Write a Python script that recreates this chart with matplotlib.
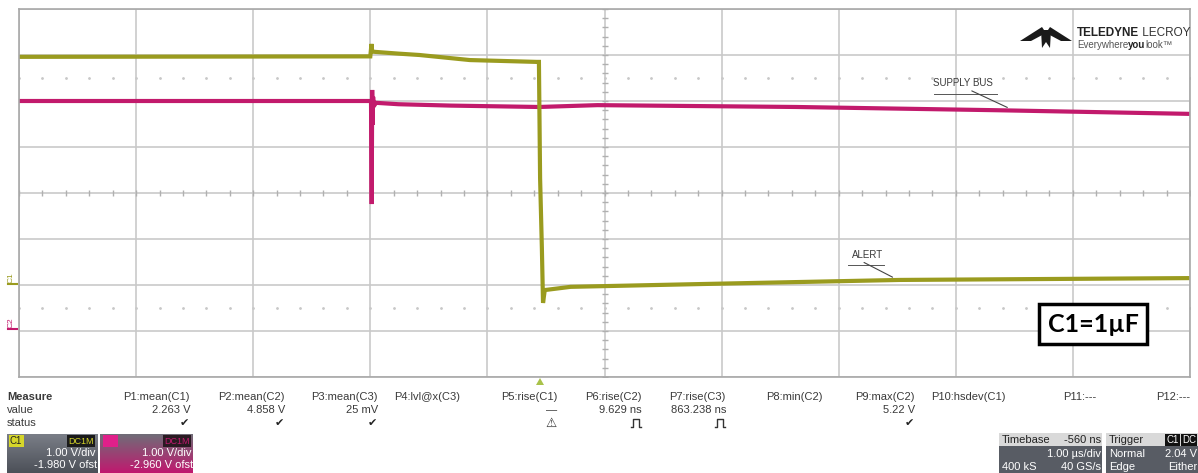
import numpy as np
import matplotlib
matplotlib.use("Agg")
import matplotlib.pyplot as plt
from matplotlib.patches import Rectangle, Polygon

# 오실로스코프 설정값
time_per_div = 1.0          # us/div
t_left = -4.44              # 화면 왼쪽 끝 시간 (트리거 = 0)
c1_ofst = -1.98             # V
c2_ofst = -2.96             # V

# C1 (ALERT) 파형: 시간(us), 전압(V)
c1_t = [-4.44, -1.44, -1.430, -1.425, -1.41, -1.20, -1.02, -0.59, -0.02, 0.0, 0.01, 0.025, 0.035, 0.05, 0.27, 1.37, 3.08, 5.56]
c1_v = [4.94, 4.95, 5.22, 5.07, 5.05, 5.01, 4.98, 4.87, 4.83, 4.83, 2.30, 0.80, -0.41, -0.13, -0.06, 0.00, 0.09, 0.13]

# C2 (SUPPLY BUS) 파형
c2_t = [-4.44, -1.434, -1.428, -1.424, -1.420, -1.416, -1.41, -1.39, -1.20, -0.75, 0.0, 0.5, 2.2, 3.9, 5.56]
c2_v = [4.96, 4.96, 2.72, 5.20, 4.44, 5.05, 4.85, 4.92, 4.89, 4.86, 4.83, 4.87, 4.83, 4.76, 4.68]

# 측정 테이블
meas_names = ["P1:mean(C1)", "P2:mean(C2)", "P3:mean(C3)", "P4:lvl@x(C3)", "P5:rise(C1)",
              "P6:rise(C2)", "P7:rise(C3)", "P8:min(C2)", "P9:max(C2)", "P10:hsdev(C1)",
              "P11:---", "P12:---"]
meas_values = ["2.263 V", "4.858 V", "25 mV", "", "\u2014", "9.629 ns", "863.238 ns", "", "5.22 V", "", "", ""]
meas_status = ["ok", "ok", "ok", "", "warn", "pulse", "pulse", "", "ok", "", "", ""]
meas_right = [190, 285, 378, 460, 557, 642, 726, 823, 915, 1006, 1096, 1190]

W, H = 1198, 473
YEL = "#9a9b1f"
MAG = "#c21a6c"
GRID = "#c9c9c9"
TXT = "#3a3a3a"


def fx(px):
    return px / W


def fy(py):
    return 1 - py / H


plt.rcParams['font.family'] = ['Liberation Sans', 'DejaVu Sans']
fig = plt.figure(figsize=(W / 100, H / 100), dpi=100)
fig.patch.set_facecolor("white")

# 화면 영역
ax_l, ax_r, ax_t, ax_b = 19, 1190, 9, 377
ax = fig.add_axes([fx(ax_l), fy(ax_b), fx(ax_r - ax_l), (ax_b - ax_t) / H])
x0, x1 = t_left, t_left + 10 * time_per_div
ax.set_xlim(x0, x1)
ax.set_ylim(-4, 4)
ax.set_xticks(x0 + np.arange(11) * time_per_div)
ax.set_yticks(np.arange(-4, 5))
ax.tick_params(length=0, labelbottom=False, labelleft=False)
ax.grid(True, color=GRID, linewidth=1.2)
for s in ax.spines.values():
    s.set_color("#a8a8a8")
    s.set_linewidth(1.2)

# 중앙선 눈금 및 점선 행
xc = x0 + 5 * time_per_div
minor_x = x0 + np.arange(0, 10.01, 0.2) * time_per_div
minor_y = np.arange(-4, 4.01, 0.2)
ax.plot(minor_x, np.zeros_like(minor_x), linestyle="none", marker="|", markersize=5, color="#b0b0b0", mew=1)
ax.plot(np.full_like(minor_y, xc), minor_y, linestyle="none", marker="_", markersize=5, color="#b0b0b0", mew=1)
for yy in (2.5, -2.5):
    ax.plot(minor_x, np.full_like(minor_x, yy), linestyle="none", marker=".", markersize=2, color="#c8c8c8")

# 파형 그리기 (화면 위치 = (V + ofst) / V/div)
ax.plot(c2_t, np.array(c2_v) + c2_ofst, color=MAG, linewidth=3.0, solid_joinstyle="miter")
ax.plot(c1_t, np.array(c1_v) + c1_ofst, color=YEL, linewidth=3.0, solid_joinstyle="miter")

# 라벨
ax.annotate("SUPPLY BUS", xy=(x0 + 8.44, 1.86), xytext=(x0 + 8.06, 2.28),
            fontsize=7, color=TXT, ha="center", va="bottom",
            arrowprops=dict(arrowstyle="-", color="#444444", lw=0.8, shrinkA=0, shrinkB=0,
                            relpos=(0.55, 0)))
ax.plot([x0 + 7.81, x0 + 8.35], [2.16, 2.16], color="#555555", lw=0.7)
ax.annotate("ALERT", xy=(x0 + 7.46, -1.83), xytext=(x0 + 7.25, -1.45),
            fontsize=7, color=TXT, ha="center", va="bottom",
            arrowprops=dict(arrowstyle="-", color="#444444", lw=0.8, shrinkA=0, shrinkB=0,
                            relpos=(0.2, 0)))
ax.plot([x0 + 7.08, x0 + 7.39], [-1.56, -1.56], color="#555555", lw=0.7)

# C1=1µF 박스
fig.text(fx(1093), fy(324), "C1=1\u00b5F", fontsize=18, fontweight="bold",
         family=["Lato", "DejaVu Sans"], ha="center", va="center", color="black",
         bbox=dict(boxstyle="square,pad=0.35", facecolor="white", edgecolor="black", linewidth=2.5))

# 로고
logo = [
    [(1020, 41), (1042, 27), (1046, 33), (1031, 41)],
    [(1072, 41), (1050, 27), (1046, 33), (1061, 41)],
    [(1041, 30), (1051, 30), (1050, 48), (1046, 42), (1042, 48)],
]
for poly in logo:
    fig.patches.append(Polygon([(fx(a), fy(b)) for a, b in poly], closed=True,
                               transform=fig.transFigure, facecolor="#1a1a1a", edgecolor="none"))

renderer = fig.canvas.get_renderer()


def text_run(x_px, y_px, parts, size):
    # 여러 스타일의 글자를 이어서 배치
    x = fx(x_px)
    for s, weight, col in parts:
        t = fig.text(x, fy(y_px), s, fontsize=size, fontweight=weight, color=col, va="center")
        bb = t.get_window_extent(renderer=renderer)
        x += bb.width / (W)


text_run(1077, 33, [("TELEDYNE", "bold", "#222222"), (" LECROY", "normal", "#333333")], 8.5)
text_run(1077, 45, [("Everywhere", "normal", "#555555"), ("you", "bold", "#222222"),
                    ("look\u2122", "normal", "#555555")], 7)

# 채널 기준 표시
for lab, col, ofst in (("C1", YEL, c1_ofst), ("C2", MAG, c2_ofst)):
    py = 193 - ofst * 46
    fig.text(fx(11), fy(py - 6), lab, fontsize=6, color=col, rotation=90, ha="center", va="center")
    fig.lines.append(plt.Line2D([fx(8), fx(17)], [fy(py), fy(py)], transform=fig.transFigure,
                                color=col, lw=1.5))

# 트리거 표시
fig.patches.append(Polygon([(fx(536), fy(385)), (fx(544), fy(385)), (fx(540), fy(378))],
                           closed=True, transform=fig.transFigure, facecolor="#a9c24a", edgecolor="none"))

# 측정 테이블
fig.text(fx(7), fy(397), "Measure", fontsize=8, fontweight="bold", color=TXT, va="center")
fig.text(fx(7), fy(410), "value", fontsize=8, color=TXT, va="center")
fig.text(fx(7), fy(423), "status", fontsize=8, color=TXT, va="center")
for name, val, st, xr in zip(meas_names, meas_values, meas_status, meas_right):
    fig.text(fx(xr), fy(397), name, fontsize=8, color=TXT, ha="right", va="center")
    if val:
        fig.text(fx(xr), fy(410), val, fontsize=8, color=TXT, ha="right", va="center")
    xs = xr - 6
    if st == "ok":
        fig.text(fx(xs), fy(423), "\u2714", fontsize=8, color="#222222", ha="center", va="center",
                 family=["DejaVu Sans"])
    elif st == "warn":
        fig.text(fx(xs), fy(423), "\u26a0", fontsize=9, color="#333333", ha="center", va="center",
                 family=["DejaVu Sans"])
    elif st == "pulse":
        # 펄스 기호 (글리프 없음 → 선으로 그림)
        px = [xs - 5, xs - 3, xs - 3, xs + 3, xs + 3, xs + 5]
        py = [427, 427, 419, 419, 427, 427]
        fig.lines.append(plt.Line2D([fx(v) for v in px], [fy(v) for v in py],
                                    transform=fig.transFigure, color="#333333", lw=1))


def gradient_box(x_a, x_b, y_a, y_b, top, bottom):
    bx = fig.add_axes([fx(x_a), fy(y_b), fx(x_b - x_a), (y_b - y_a) / H])
    c_top = np.array(matplotlib.colors.to_rgb(top))
    c_bot = np.array(matplotlib.colors.to_rgb(bottom))
    k = np.linspace(0, 1, 40)[:, None, None]
    img = c_top * (1 - k) + c_bot * k
    bx.imshow(np.repeat(img, 2, axis=1), aspect="auto", extent=(0, 1, 0, 1))
    bx.set_axis_off()
    return bx


# 채널 박스
gradient_box(7, 97, 434, 473, "#7b7f88", "#4c5058")
gradient_box(100, 193, 434, 473, "#6e6f78", "#c0196f")
fig.text(fx(10), fy(441), "C1", fontsize=7, color="#222222", va="center",
         bbox=dict(boxstyle="square,pad=0.15", facecolor="#d6d62a", edgecolor="none"))
fig.text(fx(94), fy(441), "DC1M", fontsize=6.5, color="#d6d62a", ha="right", va="center",
         bbox=dict(boxstyle="square,pad=0.15", facecolor="#1a1a1a", edgecolor="none"))
fig.text(fx(95), fy(453), "1.00 V/div", fontsize=8, color="white", ha="right", va="center")
fig.text(fx(97), fy(465), "-1.980 V ofst", fontsize=8, color="white", ha="right", va="center")
fig.text(fx(104), fy(441), "C2", fontsize=7, color="#e0208a", va="center",
         bbox=dict(boxstyle="square,pad=0.15", facecolor="#e0208a", edgecolor="none"))
fig.text(fx(190), fy(441), "DC1M", fontsize=6.5, color="#c0196f", ha="right", va="center",
         bbox=dict(boxstyle="square,pad=0.15", facecolor="#2a1a22", edgecolor="none"))
fig.text(fx(191), fy(453), "1.00 V/div", fontsize=8, color="white", ha="right", va="center")
fig.text(fx(193), fy(465), "-2.960 V ofst", fontsize=8, color="white", ha="right", va="center")

# 타임베이스 / 트리거 박스
for xa, xb in ((999, 1102), (1106, 1198)):
    fig.patches.append(Rectangle((fx(xa), fy(473)), fx(xb - xa), (473 - 433) / H,
                                 transform=fig.transFigure, facecolor="#585c64", edgecolor="none"))
    fig.patches.append(Rectangle((fx(xa), fy(446)), fx(xb - xa), (446 - 433) / H,
                                 transform=fig.transFigure, facecolor="#d9d9d9", edgecolor="none"))
fig.text(fx(1002), fy(440), "Timebase", fontsize=8, color="#222222", va="center")
fig.text(fx(1101), fy(440), "-560 ns", fontsize=8, color="#222222", ha="right", va="center")
fig.text(fx(1101), fy(454), "1.00 \u00b5s/div", fontsize=8, color="white", ha="right", va="center")
fig.text(fx(1002), fy(467), "400 kS", fontsize=8, color="white", va="center")
fig.text(fx(1101), fy(467), "40 GS/s", fontsize=8, color="white", ha="right", va="center")
fig.text(fx(1109), fy(440), "Trigger", fontsize=8, color="#222222", va="center")
fig.text(fx(1179), fy(440), "C1", fontsize=7, color="white", ha="right", va="center",
         bbox=dict(boxstyle="square,pad=0.15", facecolor="#111111", edgecolor="none"))
fig.text(fx(1196), fy(440), "DC", fontsize=7, color="white", ha="right", va="center",
         bbox=dict(boxstyle="square,pad=0.15", facecolor="#111111", edgecolor="none"))
fig.text(fx(1109), fy(454), "Normal", fontsize=8, color="white", va="center")
fig.text(fx(1197), fy(454), "2.04 V", fontsize=8, color="white", ha="right", va="center")
fig.text(fx(1109), fy(467), "Edge", fontsize=8, color="white", va="center")
fig.text(fx(1197), fy(467), "Either", fontsize=8, color="white", ha="right", va="center")

fig.savefig("out.png", dpi=100, facecolor="white")
